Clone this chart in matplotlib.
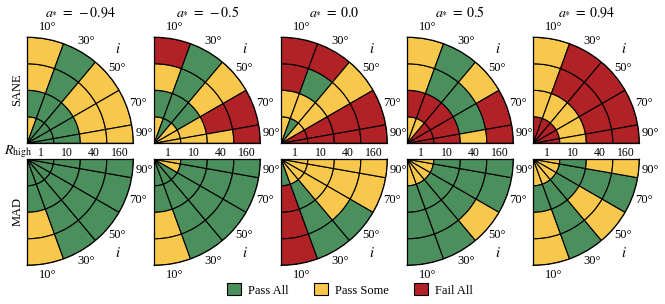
import numpy as np
import matplotlib
matplotlib.use("Agg")
import matplotlib.pyplot as plt
from matplotlib.patches import Patch

plt.rcParams["font.family"] = ["Liberation Serif", "DejaVu Serif"]
plt.rcParams["mathtext.fontset"] = "stix"

# ---------------- data ----------------
spin_labels = ["-0.94", "-0.5", "0.0", "0.5", "0.94"]
inclinations = [10, 30, 50, 70, 90]          # degrees
r_high = [1, 10, 40, 160]
models = ["SANE", "MAD"]
outcomes = ["Pass All", "Pass Some", "Fail All"]
# codes: P = Pass All, S = Pass Some, F = Fail All
# one string per R_high (1, 10, 40, 160); characters follow inclinations (10..90)
sane_m094 = ["SPPPP", "PPPPP", "SPSSS", "SPSSS"]
sane_m05 = ["SPSSS", "PPPSS", "SPSFS", "FPSFF"]
sane_0 = ["SPSFF", "SSSFF", "FPSFF", "FFSFF"]
sane_p05 = ["SSFFF", "FFFFF", "SPPPS", "SPSFF"]
sane_p094 = ["FFFFF", "SSSSS", "SFFFF", "SFFFF"]
mad_m094 = ["PPPPP", "PPPPP", "SPPPP", "SPPPP"]
mad_m05 = ["PPPSS", "PPPPP", "SPPPP", "SPPPP"]
mad_0 = ["PSSSS", "FPSSS", "FPSSS", "FPPSS"]
mad_p05 = ["SSSSS", "PPPPP", "PPPPP", "PPSPP"]
mad_p094 = ["SSSSS", "PPPPP", "SPSPS", "SPSPS"]

sane_grids = [sane_m094, sane_m05, sane_0, sane_p05, sane_p094]
mad_grids = [mad_m094, mad_m05, mad_0, mad_p05, mad_p094]

# ---------------- style ----------------
colors = {"P": "#4b8f5c", "S": "#f7c84b", "F": "#b02226"}
W, H = 665, 304
cx = [27.3, 154.3, 281.3, 407.3, 533.3]
cy_top, cy_bot, R = 143.3, 159.3, 106.0
FS = 9

inc = np.array(inclinations, float)
edges = np.concatenate([[0.0], (inc[:-1] + inc[1:]) / 2, [inc[-1]]])
centers = (edges[:-1] + edges[1:]) / 2
widths = np.diff(edges)

fig = plt.figure(figsize=(W / 100, H / 100), dpi=100)

def draw_panel(grid, x0, top):
    if top:
        rect = [x0 / W, 1 - cy_top / H, R / W, R / H]
    else:
        rect = [x0 / W, 1 - (cy_bot + R) / H, R / W, R / H]
    ax = fig.add_axes(rect, projection="polar")
    ax.set_thetamin(0)
    ax.set_thetamax(90)
    if top:
        ax.set_theta_zero_location("N")
        ax.set_theta_direction(-1)
    else:
        ax.set_theta_zero_location("S")
        ax.set_theta_direction(1)
    for k, row in enumerate(grid):
        cols = [colors[c] for c in row]
        ax.bar(np.deg2rad(centers), 1.0, width=np.deg2rad(widths), bottom=k,
               color=cols, edgecolor="black", linewidth=0.8, align="center")
    ax.set_ylim(0, len(r_high))
    ax.set_xticks([])
    ax.set_yticks([])
    ax.grid(False)
    for sp in ax.spines.values():
        sp.set_color("black")
        sp.set_linewidth(0.9)
    rmax = len(r_high)
    for c, lab in zip(centers, inclinations):
        ax.text(np.deg2rad(c), rmax * 1.11, f"{lab}°", ha="center", va="center",
                fontsize=FS, clip_on=False)
    ax.text(np.deg2rad(44), rmax * 1.235, r"$i$", ha="center", va="center",
            fontsize=FS + 1.5, clip_on=False)
    return ax

for j in range(5):
    axt = draw_panel(sane_grids[j], cx[j], True)
    axt.text(0.5, 1.0 + 25 / R, r"$a_{*}\;=\;%s$" % spin_labels[j],
             transform=axt.transAxes, ha="center", va="center", fontsize=FS + 1)
    for k, lab in enumerate(r_high):
        axt.annotate(str(lab), xy=(np.pi / 2, k + 0.5), xytext=(0, -2.5),
                     textcoords="offset points", ha="center", va="top",
                     fontsize=FS - 0.5, annotation_clip=False)
    draw_panel(mad_grids[j], cx[j], False)

fig.text(17.5 / W, 1 - 90 / H, models[0], rotation=90, ha="center", va="center", fontsize=FS)
fig.text(17.5 / W, 1 - 212 / H, models[1], rotation=90, ha="center", va="center", fontsize=FS)
fig.text(18 / W, 1 - 151.5 / H, r"$R_{\rm high}$", ha="center", va="center", fontsize=FS + 1)

handles = [Patch(facecolor=colors[c], edgecolor="black", linewidth=0.8, label=l)
           for c, l in zip(["P", "S", "F"], outcomes)]
fig.legend(handles=handles, loc="center", bbox_to_anchor=(350 / W, 1 - 290 / H),
           ncol=3, frameon=False, fontsize=FS, handlelength=1.1, handleheight=1.1,
           columnspacing=2.0, handletextpad=0.6)

fig.savefig("out.png", dpi=100)
